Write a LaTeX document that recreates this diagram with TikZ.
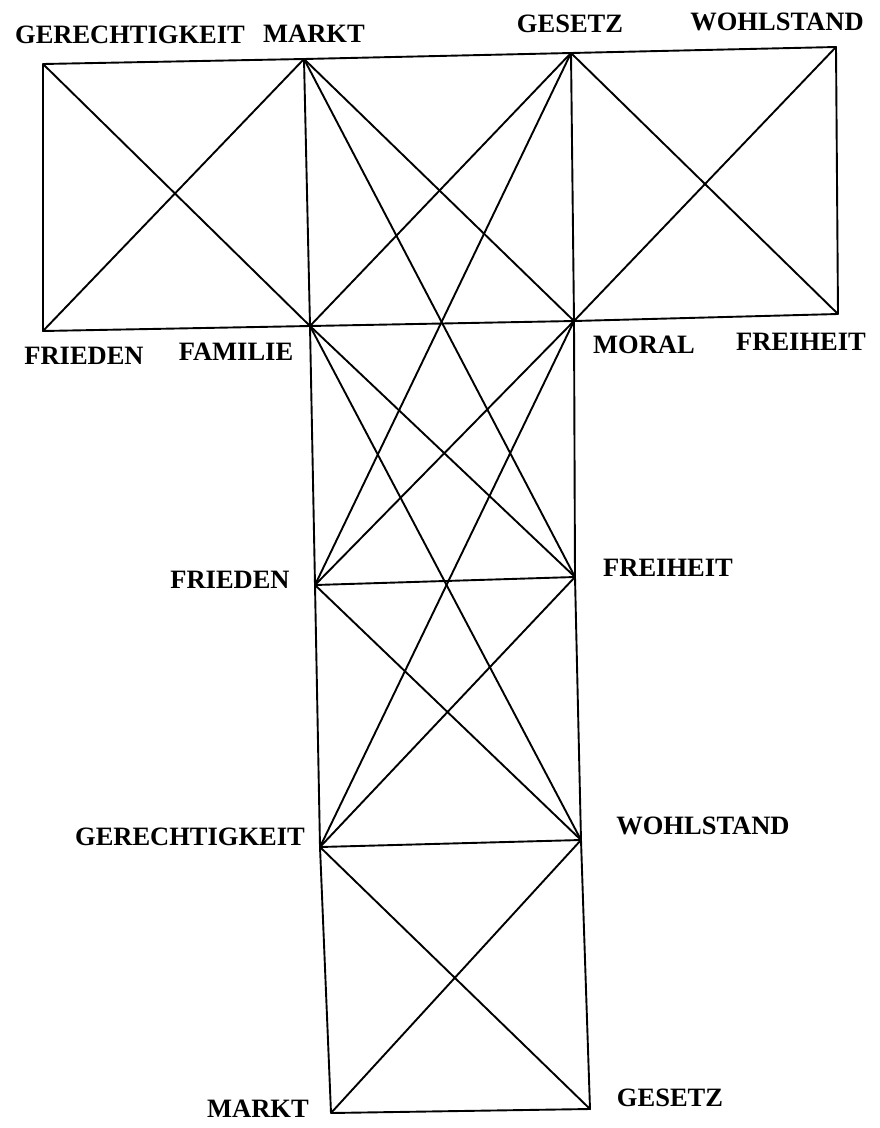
\documentclass[tikz,border=0pt]{standalone}
\usepackage{fontspec}
\setmainfont{Liberation Serif}
\begin{document}
\begin{tikzpicture}[x=1pt,y=-1pt,
  edge/.style={line width=1.9pt, line join=round, line cap=round},
  lab/.style={font=\bfseries\fontsize{26.5}{26.5}\selectfont, inner sep=0pt}]
\useasboundingbox (0,0) rectangle (879,1128);
% corners
\coordinate (tGer)   at (43,64);
\coordinate (tMarkt) at (304,59);
\coordinate (tGes)   at (571,53);
\coordinate (tWohl)  at (836,47);
\coordinate (tFried) at (43,331);
\coordinate (tFam)   at (310,326);
\coordinate (tMoral) at (574,321);
\coordinate (tFrei)  at (838,314);
\coordinate (mFried) at (315,585);
\coordinate (mFrei)  at (575,577);
\coordinate (mGer)   at (320,847);
\coordinate (mWohl)  at (581,840);
\coordinate (bMarkt) at (331,1113);
\coordinate (bGes)   at (590,1109);
% labels
\node[lab] (lGer1)   at (130,35)  {GERECHTIGKEIT};
\node[lab] (lMarkt1) at (314,34)  {MARKT};
\node[lab] (lGes1)   at (570,24)  {GESETZ};
\node[lab] (lWohl1)  at (777,22)  {WOHLSTAND};
\node[lab] (lFried1) at (84,356)  {FRIEDEN};
\node[lab] (lFam)    at (236,352) {FAMILIE};
\node[lab] (lMoral)  at (644,345) {MORAL};
\node[lab] (lFrei1)  at (801,342) {FREIHEIT};
\node[lab] (lFried2) at (230,580) {FRIEDEN};
\node[lab] (lFrei2)  at (668,568) {FREIHEIT};
\node[lab] (lGer2)   at (190,837) {GERECHTIGKEIT};
\node[lab] (lWohl2)  at (703,826) {WOHLSTAND};
\node[lab] (lMarkt2) at (258,1109) {MARKT};
\node[lab] (lGes2)   at (670,1098) {GESETZ};
% frame
\draw[edge] (tGer) -- (tMarkt) -- (tGes) -- (tWohl) -- (tFrei) -- (tMoral) -- (tFam) -- (tFried) -- cycle;
\draw[edge] (tMarkt) -- (tFam) -- (mFried) -- (mGer) -- (bMarkt) -- (bGes) -- (mWohl) -- (mFrei) -- (tMoral) -- (tGes);
\draw[edge] (mFried) -- (mFrei);
\draw[edge] (mGer) -- (mWohl);
% top row diagonals
\draw[edge] (tGer) -- (tFam);
\draw[edge] (tFried) -- (tMarkt);
\draw[edge] (tGes) -- (tFrei);
\draw[edge] (tWohl) -- (tMoral);
\draw[edge] (tMarkt) -- (tMoral);
\draw[edge] (tGes) -- (tFam);
\draw[edge] (tMarkt) -- (mFrei);
\draw[edge] (tGes) -- (mFried);
% stem diagonals
\draw[edge] (tFam) -- (mFrei);
\draw[edge] (tMoral) -- (mFried);
\draw[edge] (tFam) -- (mWohl);
\draw[edge] (tMoral) -- (mGer);
\draw[edge] (mFried) -- (mWohl);
\draw[edge] (mFrei) -- (mGer);
\draw[edge] (mGer) -- (bGes);
\draw[edge] (mWohl) -- (bMarkt);
\end{tikzpicture}
\end{document}
